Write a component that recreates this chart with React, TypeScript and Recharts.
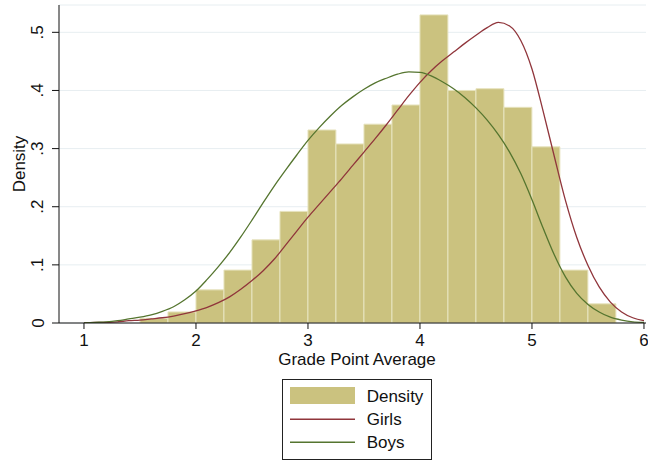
import React from 'react';
import { ComposedChart, Bar, Line, XAxis, YAxis, CartesianGrid, Legend } from 'recharts';

// Histogram bins (start of each 0.25-wide bin) and their densities
const binStarts = [1.5, 1.75, 2.0, 2.25, 2.5, 2.75, 3.0, 3.25, 3.5, 3.75, 4.0, 4.25, 4.5, 4.75, 5.0, 5.25, 5.5];
const densityValues = [0.008, 0.019, 0.057, 0.091, 0.143, 0.192, 0.332, 0.308, 0.342, 0.375, 0.530, 0.400, 0.403, 0.371, 0.303, 0.091, 0.033];
const BIN_WIDTH = 0.25;

// Kernel density curves
const curveX = [
  1.0, 1.1, 1.2, 1.3, 1.4, 1.5, 1.6, 1.7, 1.8, 1.9,
  2.0, 2.1, 2.2, 2.3, 2.4, 2.5, 2.6, 2.7, 2.8, 2.9,
  3.0, 3.1, 3.2, 3.3, 3.4, 3.5, 3.6, 3.7, 3.8, 3.9,
  4.0, 4.1, 4.2, 4.3, 4.4, 4.5, 4.6, 4.7, 4.8, 4.9,
  5.0, 5.1, 5.2, 5.3, 5.4, 5.5, 5.6, 5.7, 5.8, 5.9,
  6.0,
];
const girlsValues = [
  0.000, 0.001, 0.001, 0.002, 0.004, 0.005, 0.007, 0.009, 0.012, 0.016,
  0.021, 0.027, 0.035, 0.045, 0.058, 0.073, 0.090, 0.110, 0.134, 0.158,
  0.182, 0.204, 0.226, 0.248, 0.271, 0.294, 0.317, 0.341, 0.366, 0.391,
  0.414, 0.434, 0.451, 0.466, 0.481, 0.495, 0.508, 0.517, 0.511, 0.486,
  0.437, 0.364, 0.286, 0.210, 0.147, 0.099, 0.062, 0.036, 0.019, 0.009,
  0.004,
];
const boysValues = [
  0.000, 0.001, 0.002, 0.004, 0.007, 0.010, 0.014, 0.020, 0.028, 0.040,
  0.055, 0.075, 0.097, 0.121, 0.148, 0.177, 0.207, 0.236, 0.263, 0.289,
  0.314, 0.336, 0.356, 0.374, 0.389, 0.402, 0.413, 0.421, 0.428, 0.432,
  0.431, 0.425, 0.415, 0.403, 0.388, 0.370, 0.349, 0.324, 0.294, 0.257,
  0.212, 0.163, 0.117, 0.079, 0.051, 0.032, 0.019, 0.010, 0.005, 0.002,
  0.001,
];

const xTicks = [1, 2, 3, 4, 5, 6];
const yTicks = [0, 0.1, 0.2, 0.3, 0.4, 0.5];
const yTickLabels = ['0', '.1', '.2', '.3', '.4', '.5'];
const X_DOMAIN: [number, number] = [0.777, 6.018];

const legendItems = [
  { name: 'Density', kind: 'rect', color: '#cbc27f' },
  { name: 'Girls', kind: 'line', color: '#90353b' },
  { name: 'Boys', kind: 'line', color: '#55752f' },
];

const barData = binStarts.map((s, i) => ({ x: s + BIN_WIDTH / 2, density: densityValues[i] }));
const girlsData = curveX.map((x, i) => ({ x, girls: girlsValues[i] }));
const boysData = curveX.map((x, i) => ({ x, boys: boysValues[i] }));

const FONT = '"Liberation Sans", Arial, Helvetica, sans-serif';

const XTick = (props: any) => {
  const { x, y, payload } = props;
  return (
    <text x={x} y={y + 15.3} textAnchor="middle" fontSize={17} fontFamily={FONT} fill="#111">
      {payload.value}
    </text>
  );
};

const YTick = (props: any) => {
  const { x, y, payload } = props;
  const bx = x - 6.5;
  const idx = yTicks.indexOf(payload.value);
  const label = idx >= 0 ? yTickLabels[idx] : String(payload.value);
  return (
    <text x={bx} y={y} transform={`rotate(-90 ${bx} ${y})`} textAnchor="middle" fontSize={17} fontFamily={FONT} fill="#111">
      {label}
    </text>
  );
};

const YLabel = (props: any) => {
  const vb = props.viewBox || {};
  const cx = 24.5;
  const cy = (vb.y || 0) + (vb.height || 0) / 2;
  return (
    <text x={cx} y={cy} transform={`rotate(-90 ${cx} ${cy})`} textAnchor="middle" fontSize={17} fontFamily={FONT} fill="#111">
      Density
    </text>
  );
};

const XLabel = (props: any) => {
  const vb = props.viewBox || {};
  const cx = (vb.x || 0) + (vb.width || 0) / 2 + 4.5;
  return (
    <text x={cx} y={364.6} textAnchor="middle" fontSize={17} fontFamily={FONT} fill="#111">
      Grade Point Average
    </text>
  );
};

const LegendBox = () => (
  <div style={{ width: 150, height: 81, border: '1px solid #222', boxSizing: 'border-box', background: '#fff' }}>
    <svg width={148} height={79} style={{ display: 'block' }}>
      {legendItems.map((it, i) => {
        const baselines = [21.7, 45.4, 68];
        const lineYs = [15.5, 39.3, 62.3];
        return (
          <g key={it.name}>
            {it.kind === 'rect' ? (
              <rect x={7} y={7} width={65} height={17} fill={it.color} />
            ) : (
              <line x1={7} x2={72} y1={lineYs[i]} y2={lineYs[i]} stroke={it.color} strokeWidth={1.4} />
            )}
            <text x={83.7} y={baselines[i]} fontSize={17} fontFamily={FONT} fill="#111">
              {it.name}
            </text>
          </g>
        );
      })}
    </svg>
  </div>
);

export default function App() {
  return (
    <div style={{ position: 'absolute', left: 0, top: 0, width: 648, height: 462, background: '#fff' }}>
      <ComposedChart
        width={648}
        height={462}
        data={barData}
        margin={{ top: 5, right: 2, bottom: 99, left: 0 }}
      >
        <CartesianGrid vertical={false} stroke="#e7eef1" strokeWidth={1} />
        <XAxis
          xAxisId="bars"
          type="number"
          dataKey="x"
          domain={X_DOMAIN}
          allowDataOverflow
          height={40}
          hide
        />
        <XAxis
          type="number"
          dataKey="x"
          domain={X_DOMAIN}
          allowDataOverflow
          ticks={xTicks}
          interval={0}
          height={40}
          tickSize={6}
          tickMargin={2}
          stroke="#111"
          tick={<XTick />}
          label={<XLabel />}
        />
        <YAxis
          type="number"
          domain={[0, 0.547]}
          allowDataOverflow
          ticks={yTicks}
          interval={0}
          width={59}
          tickSize={7}
          tickMargin={2}
          stroke="#111"
          tick={<YTick />}
          label={<YLabel />}
        />
        <Bar
          xAxisId="bars"
          dataKey="density"
          name="Density"
          barSize={27.9}
          fill="#cbc27f"
          stroke="#e6e2bd"
          strokeWidth={1}
          isAnimationActive={false}
        />
        <Line
          data={girlsData}
          dataKey="girls"
          name="Girls"
          type="monotone"
          stroke="#90353b"
          strokeWidth={1.3}
          dot={false}
          activeDot={false}
          isAnimationActive={false}
        />
        <Line
          data={boysData}
          dataKey="boys"
          name="Boys"
          type="monotone"
          stroke="#55752f"
          strokeWidth={1.3}
          dot={false}
          activeDot={false}
          isAnimationActive={false}
        />
        <Legend
          layout="horizontal"
          verticalAlign="middle"
          align="center"
          content={() => <LegendBox />}
          wrapperStyle={{ left: 282, top: 379, width: 150, height: 81 }}
        />
      </ComposedChart>
    </div>
  );
}
